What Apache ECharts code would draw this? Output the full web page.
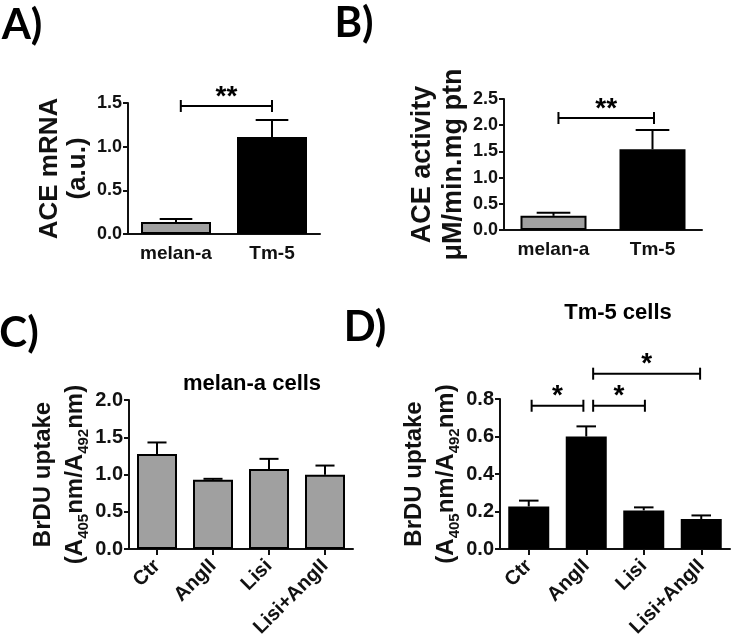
<!DOCTYPE html>
<html><head><meta charset="utf-8">
<script src="https://cdn.jsdelivr.net/npm/echarts@6/dist/echarts.min.js"></script>
<style>html,body{margin:0;padding:0;background:#fff}#c{width:733px;height:638px}</style>
</head><body><div id="c"></div>
<script>
// ---- data ----
const catsAB = ['melan-a', 'Tm-5'];
const aMean = [0.137, 1.11];
const aErr = [0.035, 0.195];
const bMean = [0.27, 1.54];
const bErr = [0.06, 0.37];
const catsCD = ['Ctr', 'AngII', 'Lisi', 'Lisi+AngII'];
const cMean = [1.275, 0.93, 1.074, 0.997];
const cErr = [0.155, 0.012, 0.136, 0.123];
const dMean = [0.227, 0.60, 0.206, 0.16];
const dErr = [0.031, 0.054, 0.016, 0.019];
// significance brackets: [fromCat, toCat, yValue, label]
const aBrackets = [[0.05, 1.0, 1.466, '**']];
const bBrackets = [[0.05, 1.015, 2.137, '**']];
const cBrackets = [];
const dBrackets = [[0.05, 0.95, 0.764, '*'], [1.12, 2.02, 0.764, '*'], [1.12, 2.98, 0.935, '*']];
// axis ranges [min, max, interval]
const aAxis = [0, 1.5, 0.5];
const bAxis = [0, 2.5, 0.5];
const cAxis = [0, 2.0, 0.5];
const dAxis = [0, 0.8, 0.2];

const FONT = '"Liberation Sans", Arial, sans-serif';
const INK = '#111';
const GREY = '#a0a0a0';

const grids = [
  {left: 128, top: 103, width: 192, height: 131},
  {left: 504, top: 99, width: 198, height: 131},
  {left: 129, top: 400, width: 224, height: 149},
  {left: 500, top: 399, width: 230, height: 150}
];

function xAxisDef(i, cats, rotated) {
  return {
    type: 'category', gridIndex: i, data: cats,
    axisLine: {lineStyle: {color: INK, width: 2}},
    axisTick: {show: rotated, alignWithLabel: true, length: 6, lineStyle: {color: INK, width: 2}},
    axisLabel: {
      color: INK, fontFamily: FONT, fontWeight: 'bold', fontSize: rotated ? 20 : 19,
      rotate: rotated ? 45 : 0, margin: rotated ? 14 : 10, interval: 0, hideOverlap: false
    }
  };
}
function yAxisDef(i, rng, name, nameSize, lineH, gap, labelSize) {
  return {
    type: 'value', gridIndex: i, min: rng[0], max: rng[1], interval: rng[2],
    splitLine: {show: false},
    axisLine: {show: true, lineStyle: {color: INK, width: 2}},
    axisTick: {show: true, length: 5, lineStyle: {color: INK, width: 2}},
    axisLabel: {color: INK, fontFamily: FONT, fontWeight: 'bold', fontSize: labelSize, margin: 6,
      formatter: v => v.toFixed(1)},
    name: name, nameLocation: 'middle', nameRotate: 90, nameGap: gap,
    nameTextStyle: {
      color: INK, fontFamily: FONT, fontWeight: 'bold', fontSize: nameSize, lineHeight: lineH,
      rich: {s: {fontFamily: FONT, fontWeight: 'bold', fontSize: 15, lineHeight: 13, verticalAlign: 'bottom', color: INK}}
    }
  };
}

function barSeries(i, vals, color, width) {
  return {
    type: 'bar', xAxisIndex: i, yAxisIndex: i, data: vals, barWidth: width,
    itemStyle: {color: color, borderColor: '#000', borderWidth: 2},
    emphasis: {disabled: true}, animation: false, z: 2
  };
}
function errSeries(i, means, errs) {
  return {
    type: 'custom', xAxisIndex: i, yAxisIndex: i, animation: false, z: 3, clip: false,
    data: means.map((m, k) => [k, m, m + errs[k]]),
    renderItem: function (params, api) {
      const k = api.value(0);
      const p0 = api.coord([k, api.value(1)]);
      const p1 = api.coord([k, api.value(2)]);
      const band = api.size([1, 0])[0];
      const half = band * 0.17;
      const st = {stroke: '#000', lineWidth: 2};
      return {type: 'group', children: [
        {type: 'line', shape: {x1: p0[0], y1: p0[1], x2: p1[0], y2: p1[1]}, style: st},
        {type: 'line', shape: {x1: p1[0] - half, y1: p1[1], x2: p1[0] + half, y2: p1[1]}, style: st}
      ]};
    }
  };
}
function bracketSeries(i, brs) {
  return {
    type: 'custom', xAxisIndex: i, yAxisIndex: i, animation: false, z: 4, clip: false,
    data: brs.map((b, k) => [0, 0]),
    renderItem: function (params, api) {
      const b = brs[params.dataIndex];
      const band = api.size([1, 0])[0];
      const xf = c => api.coord([Math.floor(c), 0])[0] + (c - Math.floor(c)) * band;
      const x1 = xf(b[0]), x2 = xf(b[1]);
      const y = api.coord([0, b[2]])[1];
      const st = {stroke: '#000', lineWidth: 2};
      return {type: 'group', children: [
        {type: 'line', shape: {x1: x1, y1: y, x2: x2, y2: y}, style: st},
        {type: 'line', shape: {x1: x1, y1: y - 6, x2: x1, y2: y + 6}, style: st},
        {type: 'line', shape: {x1: x2, y1: y - 6, x2: x2, y2: y + 6}, style: st},
        {type: 'text', style: {text: b[3], x: (x1 + x2) / 2, y: y + 5, fill: '#000',
          font: 'bold 28px ' + FONT, align: 'center', verticalAlign: 'bottom',
          textAlign: 'center', textVerticalAlign: 'bottom'}}
      ]};
    }
  };
}

function label(text, x, y, size, family) {
  return {type: 'text', x: x, y: y, silent: true,
    style: {text: text, fill: '#000', font: 'bold ' + size + 'px ' + family,
      align: 'center', verticalAlign: 'middle', textAlign: 'center', textVerticalAlign: 'middle'}};
}

const chart = echarts.init(document.getElementById('c'), null, {renderer: 'canvas'});
chart.setOption({
  backgroundColor: '#fff',
  animation: false,
  grid: grids.map(g => Object.assign({containLabel: false, outerBoundsMode: 'none'}, g)),
  xAxis: [xAxisDef(0, catsAB, false), xAxisDef(1, catsAB, false), xAxisDef(2, catsCD, true), xAxisDef(3, catsCD, true)],
  yAxis: [
    yAxisDef(0, aAxis, 'ACE mRNA\n(a.u.)', 26, 28, 36, 18),
    yAxisDef(1, bAxis, 'ACE activity\nμM/min.mg ptn', 27, 31, 31, 18),
    yAxisDef(2, cAxis, 'BrDU uptake\n(A{s|405}nm/A{s|492}nm)', 24, 32, 36, 20),
    yAxisDef(3, dAxis, 'BrDU uptake\n(A{s|405}nm/A{s|492}nm)', 24, 32, 36, 20)
  ],
  series: [
    barSeries(0, aMean.map((v, k) => ({value: v, itemStyle: {color: k === 0 ? GREY : '#000'}})), GREY, 70),
    errSeries(0, aMean, aErr), bracketSeries(0, aBrackets),
    barSeries(1, bMean.map((v, k) => ({value: v, itemStyle: {color: k === 0 ? GREY : '#000'}})), GREY, 66),
    errSeries(1, bMean, bErr), bracketSeries(1, bBrackets),
    barSeries(2, cMean, GREY, 40), errSeries(2, cMean, cErr), bracketSeries(2, cBrackets),
    barSeries(3, dMean, '#000', 41), errSeries(3, dMean, dErr), bracketSeries(3, dBrackets)
  ],
  graphic: [
    label('A)', 22, 25, 42, 'Lato, "Open Sans", sans-serif'),
    label('B)', 354, 23, 42, 'Lato, "Open Sans", sans-serif'),
    label('C)', 19, 333, 42, 'Lato, "Open Sans", sans-serif'),
    label('D)', 365, 327, 42, 'Lato, "Open Sans", sans-serif'),
    label('melan-a cells', 252, 384, 22, FONT),
    label('Tm-5 cells', 618, 313, 22, FONT)
  ]
});
</script></body></html>
